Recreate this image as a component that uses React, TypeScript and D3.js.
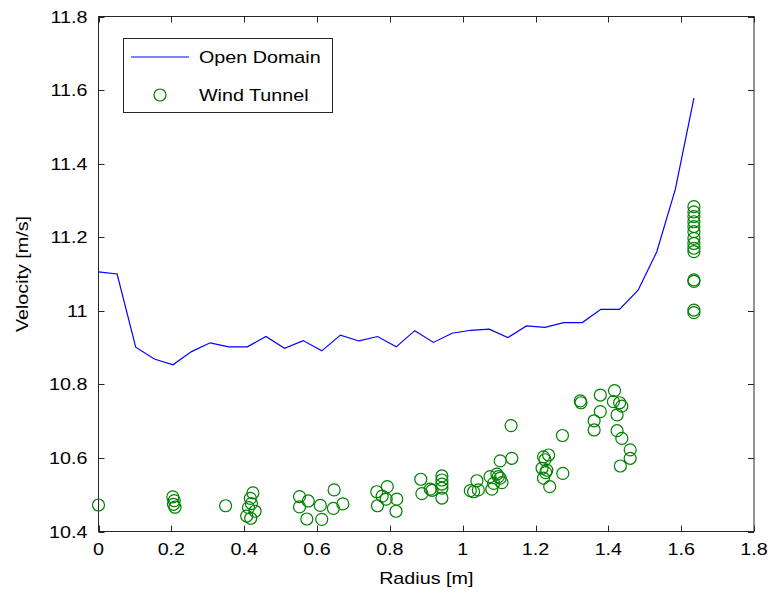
import React, { useEffect, useRef } from "react";
import * as d3 from "d3";

// Open Domain profile: velocity sampled at 33 evenly spaced radii out to 1.635 m
const OPEN_RADIUS_MAX = 1.635;
const openVelocity = [
  11.106, 11.1, 10.901, 10.869, 10.853, 10.889, 10.913, 10.902, 10.902, 10.93,
  10.898, 10.919, 10.891, 10.934, 10.918, 10.93, 10.902, 10.946, 10.914, 10.939,
  10.947, 10.95, 10.927, 10.959, 10.955, 10.968, 10.968, 11.004, 11.004, 11.056,
  11.16, 11.33, 11.578,
];
const openRadius = openVelocity.map((_, i) => (i * OPEN_RADIUS_MAX) / (openVelocity.length - 1));

// Wind Tunnel measurements
const tunnelRadius = [
  0.0,
  0.204, 0.208, 0.206, 0.21,
  0.349,
  0.424, 0.417, 0.42, 0.412, 0.43, 0.407, 0.418,
  0.552, 0.552, 0.576, 0.572, 0.609, 0.613, 0.647, 0.645, 0.671,
  0.764, 0.793, 0.779, 0.79, 0.819, 0.766, 0.817,
  0.885, 0.888, 0.911, 0.916, 0.943, 0.943, 0.943, 0.943, 0.943,
  1.021, 1.03, 1.039, 1.043, 1.075, 1.08, 1.094, 1.103, 1.108, 1.098, 1.085, 1.103, 1.135,
  1.133,
  1.222, 1.236, 1.226, 1.218, 1.231, 1.228, 1.222, 1.239, 1.275, 1.274,
  1.323, 1.325, 1.361, 1.361, 1.378, 1.378, 1.417, 1.414, 1.431, 1.437, 1.424, 1.424, 1.437, 1.46, 1.46, 1.433,
  1.635, 1.635, 1.635, 1.635, 1.635, 1.635, 1.635, 1.635, 1.635, 1.635, 1.635, 1.635, 1.635, 1.635,
];
const tunnelVelocity = [
  10.472,
  10.494, 10.484, 10.474, 10.466,
  10.47,
  10.505, 10.49, 10.476, 10.465, 10.455, 10.442, 10.436,
  10.495, 10.467, 10.483, 10.434, 10.471, 10.433, 10.513, 10.463, 10.475,
  10.508, 10.522, 10.496, 10.488, 10.488, 10.47, 10.455,
  10.542, 10.503, 10.515, 10.512, 10.551, 10.54, 10.529, 10.518, 10.491,
  10.511, 10.508, 10.538, 10.513, 10.549, 10.515, 10.556, 10.545, 10.533, 10.549, 10.531, 10.592, 10.599,
  10.688,
  10.603, 10.608, 10.595, 10.572, 10.567, 10.56, 10.545, 10.522, 10.558, 10.661,
  10.755, 10.75, 10.701, 10.676, 10.771, 10.726, 10.783, 10.753, 10.75, 10.741, 10.717, 10.674, 10.653, 10.622, 10.599, 10.578,
  11.283, 11.269, 11.256, 11.242, 11.229, 11.215, 11.197, 11.183, 11.17, 11.161, 11.084, 11.08, 11.002, 10.995,
];

const xTicks = [0, 0.2, 0.4, 0.6, 0.8, 1, 1.2, 1.4, 1.6, 1.8];
const yTicks = [10.4, 10.6, 10.8, 11, 11.2, 11.4, 11.6, 11.8];
const seriesNames = ["Open Domain", "Wind Tunnel"];

const W = 769;
const H = 597;
const M = { left: 98.5, right: 754, top: 16.5, bottom: 531.5 };
const FONT = "'Liberation Sans', Arial, sans-serif";
const FS = 17;
const STRETCH = 1.16; // horizontally widened glyphs
const AXIS = "#262626";
const BLUE = "#0000ff";
const GREEN = "#008000";

type Sel = d3.Selection<SVGGElement | SVGSVGElement, unknown, null, undefined>;

function addText(
  parent: Sel,
  x: number,
  y: number,
  text: string,
  anchor: "start" | "middle" | "end",
  rotate = 0
) {
  parent
    .append("text")
    .attr("transform", `translate(${x},${y}) rotate(${rotate}) scale(${STRETCH},1)`)
    .attr("text-anchor", anchor)
    .attr("font-family", FONT)
    .attr("font-size", FS)
    .attr("fill", "#000")
    .text(text);
}

export default function App() {
  const ref = useRef<SVGSVGElement | null>(null);

  useEffect(() => {
    const svg = d3.select(ref.current as SVGSVGElement) as unknown as Sel;
    svg.selectAll("*").remove();

    const x = d3.scaleLinear().domain([0, 1.8]).range([M.left, M.right]);
    const y = d3.scaleLinear().domain([10.4, 11.8]).range([M.bottom, M.top]);
    const tickLen = 6;

    svg.append("rect").attr("width", W).attr("height", H).attr("fill", "#fff");

    // Plot frame
    svg
      .append("rect")
      .attr("x", M.left)
      .attr("y", M.top)
      .attr("width", M.right - M.left)
      .attr("height", M.bottom - M.top)
      .attr("fill", "none")
      .attr("stroke", AXIS)
      .attr("stroke-width", 1);

    // Inward ticks on all four sides
    const ticks = svg.append("g").attr("stroke", AXIS).attr("stroke-width", 1);
    xTicks.forEach((t) => {
      const px = Math.round(x(t)) + 0.5;
      ticks.append("line").attr("x1", px).attr("x2", px).attr("y1", M.bottom).attr("y2", M.bottom - tickLen);
      ticks.append("line").attr("x1", px).attr("x2", px).attr("y1", M.top).attr("y2", M.top + tickLen);
    });
    yTicks.forEach((t) => {
      const py = Math.round(y(t)) + 0.5;
      ticks.append("line").attr("x1", M.left).attr("x2", M.left + tickLen).attr("y1", py).attr("y2", py);
      ticks.append("line").attr("x1", M.right).attr("x2", M.right - tickLen).attr("y1", py).attr("y2", py);
    });

    // Tick labels
    const labels = svg.append("g") as unknown as Sel;
    xTicks.forEach((t) => addText(labels, x(t), M.bottom + 23, d3.format("~g")(t), "middle"));
    yTicks.forEach((t) => addText(labels, M.left - 11, y(t) + 6, d3.format("~g")(t), "end"));

    // Axis titles
    addText(svg, (M.left + M.right) / 2, 584, "Radius [m]", "middle");
    addText(svg, 28, (M.top + M.bottom) / 2, "Velocity [m/s]", "middle", -90);

    // Open Domain line
    const line = d3
      .line<number>()
      .x((_, i) => x(openRadius[i]))
      .y((d) => y(d));
    svg
      .append("path")
      .datum(openVelocity)
      .attr("d", line)
      .attr("fill", "none")
      .attr("stroke", BLUE)
      .attr("stroke-width", 1.2);

    // Wind Tunnel markers
    svg
      .append("g")
      .selectAll("circle")
      .data(tunnelRadius)
      .join("circle")
      .attr("cx", (d) => x(d))
      .attr("cy", (_, i) => y(tunnelVelocity[i]))
      .attr("r", 6)
      .attr("fill", "none")
      .attr("stroke", GREEN)
      .attr("stroke-width", 1.2);

    // Legend
    const lg = svg.append("g") as unknown as Sel;
    lg.append("rect")
      .attr("x", 123.5)
      .attr("y", 38.5)
      .attr("width", 209)
      .attr("height", 74)
      .attr("fill", "#fff")
      .attr("stroke", AXIS)
      .attr("stroke-width", 1);
    lg.append("line")
      .attr("x1", 131)
      .attr("x2", 189)
      .attr("y1", 57)
      .attr("y2", 57)
      .attr("stroke", BLUE)
      .attr("stroke-width", 1.2);
    lg.append("circle")
      .attr("cx", 160)
      .attr("cy", 95)
      .attr("r", 6)
      .attr("fill", "none")
      .attr("stroke", GREEN)
      .attr("stroke-width", 1.2);
    seriesNames.forEach((name, i) => addText(lg, 199, 63 + i * 38, name, "start"));
  }, []);

  return (
    <svg
      ref={ref}
      width={W}
      height={H}
      style={{ position: "absolute", left: 0, top: 0, display: "block" }}
    />
  );
}
